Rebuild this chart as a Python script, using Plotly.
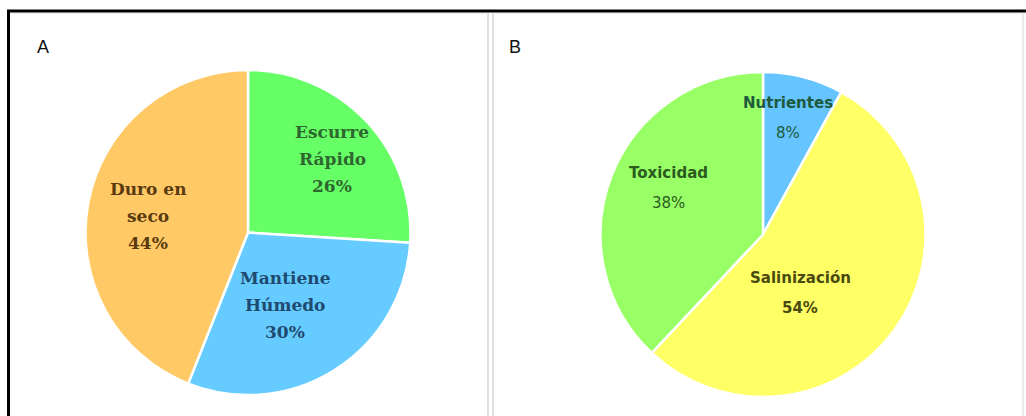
import plotly.graph_objects as go

# Panel A: soil drainage behaviour
labels_a = ["Escurre Rápido", "Mantiene Húmedo", "Duro en seco"]
lines_a = [["Escurre", "Rápido"], ["Mantiene", "Húmedo"], ["Duro en", "seco"]]
values_a = [26, 30, 44]

# Panel B: water quality issues
labels_b = ["Nutrientes", "Salinización", "Toxicidad"]
lines_b = [["Nutrientes"], ["Salinización"], ["Toxicidad"]]
values_b = [8, 54, 38]

W, H = 1026, 416

colors_a = ["#66FF66", "#66CCFF", "#FFC966"]
text_a = ["#2E6630", "#1F4A70", "#5A3A10"]
colors_b = ["#66C4FF", "#FFFF66", "#99FF66"]
text_b = ["#1E5A3C", "#4A4A10", "#2B5A1E"]
# percentage weight per slice in panel B
pct_bold_b = [False, True, False]


def px_dom(x0, x1, y0, y1):
    return dict(x=[x0 / W, x1 / W], y=[1 - y1 / H, 1 - y0 / H])


fig = go.Figure()
fig.add_trace(go.Pie(
    labels=labels_a, values=values_a, sort=False, direction="clockwise",
    rotation=0, marker=dict(colors=colors_a, line=dict(color="white", width=2.5)),
    textinfo="none", hoverinfo="label+percent", showlegend=False,
    domain=px_dom(85, 411, 70, 395),
))
fig.add_trace(go.Pie(
    labels=labels_b, values=values_b, sort=False, direction="clockwise",
    rotation=0, marker=dict(colors=colors_b, line=dict(color="white", width=2.5)),
    textinfo="none", hoverinfo="label+percent", showlegend=False,
    domain=px_dom(600, 926, 72, 397),
))

annotations = []


def add_block(lines, value, x, y0, step, color, family, size, pct_bold=True):
    rows = [(r, True) for r in lines] + [(f"{value}%", pct_bold)]
    for i, (row, bold) in enumerate(rows):
        annotations.append(dict(
            x=x, y=y0 + i * step, xref="x", yref="y",
            text=f"<b>{row}</b>" if bold else row,
            showarrow=False, xanchor="center", yanchor="middle",
            font=dict(family=family, size=size, color=color),
        ))


serif = "DejaVu Serif"
sans = "DejaVu Sans"
pos_a = [(332, 132), (285, 278), (148, 189)]
for lines, v, (x, y), c in zip(lines_a, values_a, pos_a, text_a):
    add_block(lines, v, x, y, 27, c, serif, 17)

pos_b = [(788, 103), (800, 278), (668, 173)]
for lines, v, (x, y), c, pb in zip(lines_b, values_b, pos_b, text_b, pct_bold_b):
    add_block(lines, v, x, y, 30, c, sans, 15, pb)

# panel letters
for letter, x, y in [("A", 43, 47), ("B", 515, 47)]:
    annotations.append(dict(
        x=x, y=y, xref="x", yref="y", text=letter, showarrow=False,
        xanchor="center", yanchor="middle",
        font=dict(family="Liberation Sans", size=18, color="#111111"),
    ))

shapes = [
    # outer frame
    dict(type="path", path=f"M 8.5 {H} L 8.5 11 L {W} 11", xref="x", yref="y",
         line=dict(color="black", width=3)),
    # panel borders
    dict(type="line", x0=488, x1=488, y0=13, y1=H, xref="x", yref="y",
         line=dict(color="#D6D6D6", width=1.5)),
    dict(type="line", x0=493, x1=493, y0=13, y1=H, xref="x", yref="y",
         line=dict(color="#D6D6D6", width=1.5)),
    dict(type="line", x0=1023, x1=1023, y0=13, y1=H, xref="x", yref="y",
         line=dict(color="#E4E4E4", width=1.5)),
    dict(type="line", x0=12, x1=488, y0=13.5, y1=13.5, xref="x", yref="y",
         line=dict(color="#EEEEEE", width=1)),
    dict(type="line", x0=493, x1=1023, y0=13.5, y1=13.5, xref="x", yref="y",
         line=dict(color="#EEEEEE", width=1)),
]

fig.update_layout(
    width=W, height=H, margin=dict(l=0, r=0, t=0, b=0),
    paper_bgcolor="white", plot_bgcolor="white",
    xaxis=dict(range=[0, W], visible=False, fixedrange=True),
    yaxis=dict(range=[H, 0], visible=False, fixedrange=True),
    annotations=annotations, shapes=shapes,
)

fig.write_html("out.html")
